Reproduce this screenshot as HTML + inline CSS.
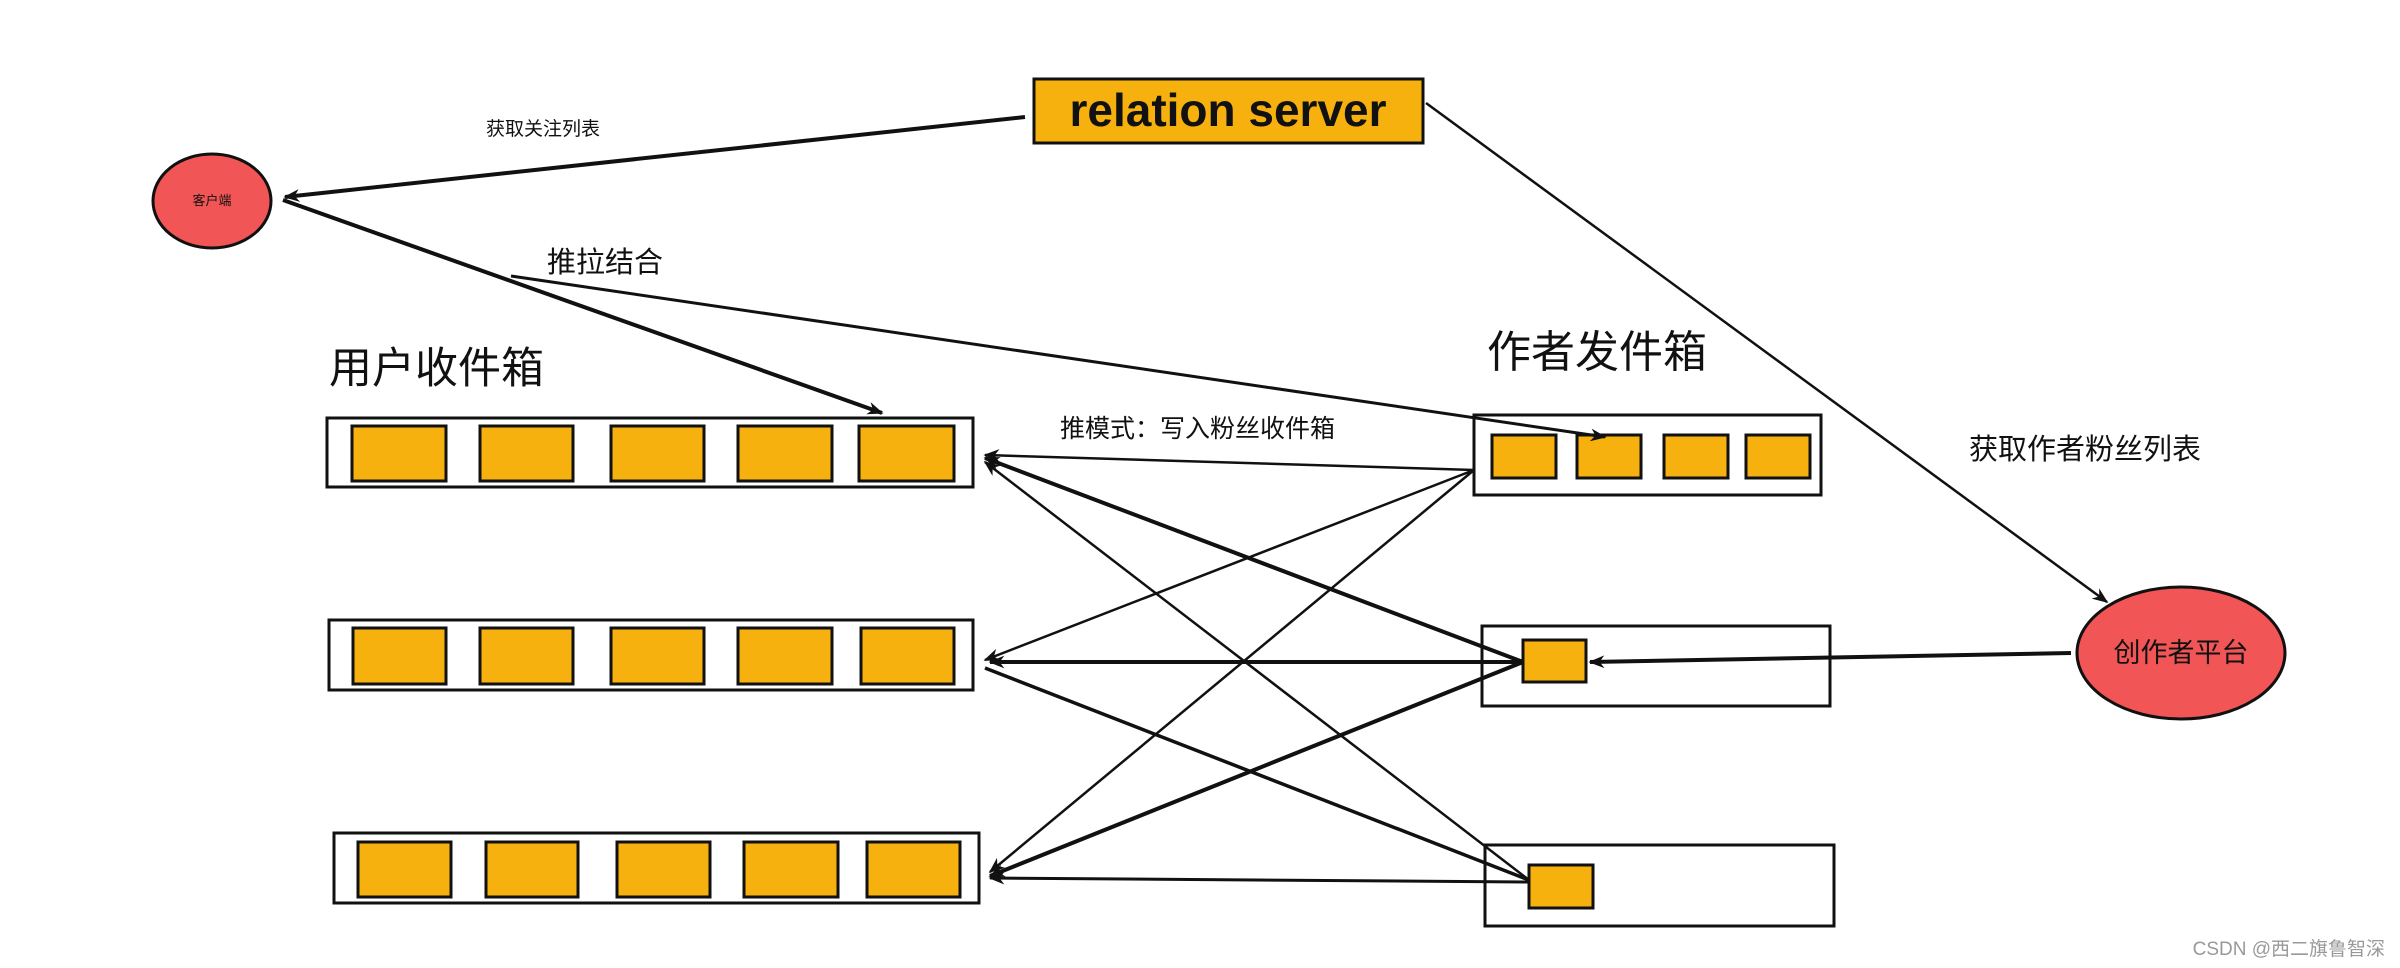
<!DOCTYPE html>
<html><head><meta charset="utf-8"><style>
html,body{margin:0;padding:0;background:#fff;}
svg{display:block;}
text{font-family:"Liberation Sans","Noto Sans CJK SC",sans-serif;fill:#111;}
</style></head><body>
<svg width="2400" height="968" viewBox="0 0 2400 968" xmlns="http://www.w3.org/2000/svg">
<defs>
<marker id="b" viewBox="0 0 10 10" refX="9" refY="5" markerWidth="16" markerHeight="16" orient="auto" markerUnits="userSpaceOnUse">
<path d="M0,1 L10,5 L0,9 L3,5 z" fill="#111"/></marker>
</defs>

<!-- relation server -->
<rect x="1034" y="79" width="389" height="64" fill="#f7b10f" stroke="#111" stroke-width="3"/>
<text x="1228" y="126" text-anchor="middle" font-size="46" font-weight="bold">relation server</text>

<!-- client -->
<ellipse cx="212" cy="201" rx="59" ry="47" fill="#f25555" stroke="#111" stroke-width="3"/>
<text x="212" y="205" text-anchor="middle" font-size="13">客户端</text>

<!-- creator -->
<ellipse cx="2181" cy="653" rx="104" ry="66" fill="#f25555" stroke="#111" stroke-width="3"/>
<text x="2181" y="662" text-anchor="middle" font-size="27">创作者平台</text>

<!-- labels -->
<text x="486" y="135" font-size="19">获取关注列表</text>
<text x="547" y="272" font-size="29">推拉结合</text>
<text x="329" y="383" font-size="43">用户收件箱</text>
<text x="1487" y="367" font-size="44">作者发件箱</text>
<text x="1060" y="437" font-size="25">推模式：写入粉丝收件箱</text>
<text x="1969" y="459" font-size="29">获取作者粉丝列表</text>
<text x="2385" y="955" font-size="19" text-anchor="end" style="fill:#999">CSDN @西二旗鲁智深</text>

<!-- inboxes -->
<g stroke="#111" stroke-width="3" fill="#f7b10f">
<rect x="327" y="418" width="646" height="69" fill="#fff"/>
<rect x="352" y="426" width="94" height="55"/><rect x="480" y="426" width="93" height="55"/><rect x="611" y="426" width="93" height="55"/><rect x="738" y="426" width="94" height="55"/><rect x="859" y="426" width="95" height="55"/>
<rect x="329" y="620" width="644" height="70" fill="#fff"/>
<rect x="353" y="628" width="93" height="56"/><rect x="480" y="628" width="93" height="56"/><rect x="611" y="628" width="93" height="56"/><rect x="738" y="628" width="94" height="56"/><rect x="861" y="628" width="93" height="56"/>
<rect x="334" y="833" width="645" height="70" fill="#fff"/>
<rect x="358" y="842" width="93" height="55"/><rect x="486" y="842" width="92" height="55"/><rect x="617" y="842" width="93" height="55"/><rect x="744" y="842" width="94" height="55"/><rect x="867" y="842" width="93" height="55"/>
<!-- outboxes -->
<rect x="1474" y="415" width="347" height="80" fill="#fff"/>
<rect x="1492" y="435" width="64" height="43"/><rect x="1577" y="435" width="64" height="43"/><rect x="1664" y="435" width="64" height="43"/><rect x="1746" y="435" width="64" height="43"/>
<rect x="1482" y="626" width="348" height="80" fill="#fff"/>
<rect x="1523" y="640" width="63" height="42"/>
<rect x="1485" y="845" width="349" height="81" fill="#fff"/>
<rect x="1529" y="865" width="64" height="43"/>
</g>

<!-- connectors -->
<g stroke="#111" fill="none">
<line x1="1025" y1="117" x2="285" y2="197" stroke-width="4" marker-end="url(#b)"/>
<line x1="283" y1="200" x2="882" y2="413" stroke-width="4" marker-end="url(#b)"/>
<line x1="511" y1="276" x2="1605" y2="437" stroke-width="3" marker-end="url(#b)"/>
<line x1="1426" y1="103" x2="2107" y2="602" stroke-width="2.5" marker-end="url(#b)"/>
<line x1="2071" y1="653" x2="1590" y2="662" stroke-width="4" marker-end="url(#b)"/>

<line x1="1474" y1="470" x2="985" y2="455" stroke-width="2.5" marker-end="url(#b)"/>
<line x1="1523" y1="662" x2="985" y2="458" stroke-width="4" marker-end="url(#b)"/>
<line x1="1529" y1="880" x2="985" y2="462" stroke-width="2.5" marker-end="url(#b)"/>
<line x1="1474" y1="470" x2="985" y2="660" stroke-width="2.5" marker-end="url(#b)"/>
<line x1="1523" y1="662" x2="990" y2="662" stroke-width="4" marker-end="url(#b)"/>
<line x1="985" y1="668" x2="1529" y2="880" stroke-width="3.5"/>
<line x1="1474" y1="470" x2="990" y2="872" stroke-width="2.5" marker-end="url(#b)"/>
<line x1="1523" y1="662" x2="990" y2="876" stroke-width="4" marker-end="url(#b)"/>
<line x1="1529" y1="882" x2="990" y2="878" stroke-width="3" marker-end="url(#b)"/>
</g>
</svg>
</body></html>
